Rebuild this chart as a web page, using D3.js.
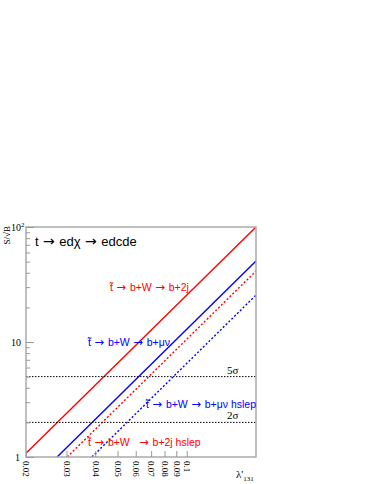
<!DOCTYPE html>
<html>
<head>
<meta charset="utf-8">
<script src="https://cdn.jsdelivr.net/npm/d3@7"></script>
<style>
  body { margin: 0; background: #fff; }
  svg { display: block; }
  .axis path, .axis line { stroke: #999; }
  .serif { font-family: "Liberation Serif", "DejaVu Serif", serif; }
  .sans { font-family: "Liberation Sans", Arial, sans-serif; }
  .arrow { font-family: "DejaVu Sans", sans-serif; }
</style>
</head>
<body>
<svg id="chart" width="374" height="484"></svg>
<script>
// S/sqrt(B) versus lambda'_131, log-log
var xTicks = [0.02, 0.03, 0.04, 0.05, 0.06, 0.07, 0.08, 0.09, 0.1];
var xTickLabels = ["0.02", "0.03", "0.04", "0.05", "0.06", "0.07", "0.08", "0.09", "0.1"];
var yMajor = [1, 10, 100];
var yMinor = [2, 3, 4, 5, 6, 7, 8, 9, 20, 30, 40, 50, 60, 70, 80, 90];

var redSolidL = [0.02, 0.2],   redSolidS = [1.08, 100];
var blueSolidL = [0.0273, 0.2], blueSolidS = [1, 50.6];
var redDotL = [0.0302, 0.2],   redDotS = [1, 41.4];
var blueDotL = [0.0387, 0.2],  blueDotS = [1, 25.6];

var sigmaLevels = [5, 2];
var sigmaLabels = ["5\u03c3", "2\u03c3"];

var series = [
    { l: redSolidL, s: redSolidS, color: "#ff0000", dash: null },
    { l: blueSolidL, s: blueSolidS, color: "#0000ff", dash: null },
    { l: redDotL, s: redDotS, color: "#ff0000", dash: "2,2" },
    { l: blueDotL, s: blueDotS, color: "#0000ff", dash: "2,2" }
];

var mLeft = 26, mRight = 256, mTop = 227, mBottom = 457;

var x = d3.scaleLog().domain([0.02, 0.2]).range([mLeft, mRight]);
var y = d3.scaleLog().domain([1, 100]).range([mBottom, mTop]);

var svg = d3.select("#chart");

// series lines, clipped to the frame
svg.append("defs").append("clipPath")
    .attr("id", "clip")
    .append("rect")
    .attr("x", mLeft).attr("y", mTop)
    .attr("width", mRight - mLeft).attr("height", mBottom - mTop);

var line = d3.line()
    .x(function (d) { return x(d[0]); })
    .y(function (d) { return y(d[1]); });

var plot = svg.append("g").attr("clip-path", "url(#clip)");

series.forEach(function (ser) {
    var pts = ser.l.map(function (v, i) { return [v, ser.s[i]]; });
    plot.append("path")
        .datum(pts)
        .attr("d", line)
        .attr("fill", "none")
        .attr("stroke", ser.color)
        .attr("stroke-width", 1.4)
        .attr("stroke-dasharray", ser.dash);
});

// significance lines
sigmaLevels.forEach(function (v, i) {
    svg.append("line")
        .attr("x1", mLeft).attr("x2", mRight)
        .attr("y1", y(v)).attr("y2", y(v))
        .attr("stroke", "#000")
        .attr("stroke-width", 1)
        .attr("stroke-dasharray", "1.5,1.5");
    svg.append("text")
        .attr("class", "serif")
        .attr("x", 227)
        .attr("y", y(v) - 3)
        .attr("font-size", 11)
        .text(sigmaLabels[i]);
});

// frame
svg.append("rect")
    .attr("x", mLeft).attr("y", mTop)
    .attr("width", mRight - mLeft).attr("height", mBottom - mTop)
    .attr("fill", "none")
    .attr("stroke", "#aaa")
    .attr("stroke-width", 1.5);

// x axis (ticks pointing in)
var xAxis = d3.axisBottom(x)
    .tickValues(xTicks)
    .tickFormat(function (d, i) { return xTickLabels[i]; })
    .tickSizeInner(-6)
    .tickSizeOuter(0);

var gx = svg.append("g")
    .attr("class", "axis serif")
    .attr("transform", "translate(0," + mBottom + ")")
    .call(xAxis);
gx.select(".domain").remove();
gx.selectAll("text")
    .attr("font-size", 9)
    .attr("fill", "#000")
    .attr("transform", "rotate(90)")
    .attr("x", 4)
    .attr("y", 0)
    .attr("dy", "0.35em")
    .style("text-anchor", "start");

// y axis (ticks pointing in)
var gy = svg.append("g")
    .attr("class", "axis serif")
    .attr("transform", "translate(" + mLeft + ",0)")
    .call(d3.axisLeft(y)
        .tickValues(yMajor.concat(yMinor))
        .tickFormat("")
        .tickSizeOuter(0));
gy.select(".domain").remove();
gy.selectAll(".tick line")
    .attr("x2", function (d) { return yMajor.indexOf(d) >= 0 ? 8 : 4; });

// y tick labels
svg.append("text").attr("class", "serif")
    .attr("x", 20).attr("y", y(1) + 4)
    .attr("font-size", 10).attr("text-anchor", "end").text("1");
svg.append("text").attr("class", "serif")
    .attr("x", 21).attr("y", y(10) + 4)
    .attr("font-size", 10).attr("text-anchor", "end").text("10");
var t100 = svg.append("text").attr("class", "serif")
    .attr("x", 11).attr("y", y(100) + 4)
    .attr("font-size", 10);
t100.append("tspan").text("10");
t100.append("tspan").attr("dy", -4).attr("font-size", 7).text("2");

// axis titles
svg.append("text")
    .attr("class", "serif")
    .attr("transform", "translate(10," + (mTop - 1) + ") rotate(-90)")
    .attr("font-size", 9)
    .attr("text-anchor", "end")
    .text("S/\u221aB");

var xt = svg.append("text").attr("class", "serif")
    .attr("x", 236).attr("y", 478).attr("font-size", 11);
xt.append("tspan").text("\u03bb'");
xt.append("tspan").attr("dy", 3).attr("font-size", 7).text("131");

// process labels: text pieces joined by arrows
function addLabel(px, py, size, color, parts, gap) {
    var t = svg.append("text").attr("class", "sans")
        .attr("x", px).attr("y", py)
        .attr("font-size", size)
        .attr("fill", color)
        .attr("xml:space", "preserve");
    parts.forEach(function (p, i) {
        if (i > 0) t.append("tspan").attr("class", "arrow")
            .attr("font-size", size + 1)
            .text(gap + "\u2192" + gap);
        t.append("tspan").text(p);
    });
}

addLabel(35, 246, 13, "#000", ["t", "ed\u03c7", "edcde"], " ");
addLabel(110, 291, 10.5, "#ff0000", ["t\u0303", "b+W", "b+2j"], " ");
addLabel(88, 346, 10.5, "#0000ff", ["t\u0303", "b+W", "b+\u03bc\u03bd"], " ");
addLabel(146, 408, 10.5, "#0000ff", ["t\u0303", "b+W", "b+\u03bc\u03bd hslep"], " ");
addLabel(88, 446, 10.5, "#ff0000", ["t\u0303", "b+W  ", "b+2j hslep"], " ");
</script>
</body>
</html>
